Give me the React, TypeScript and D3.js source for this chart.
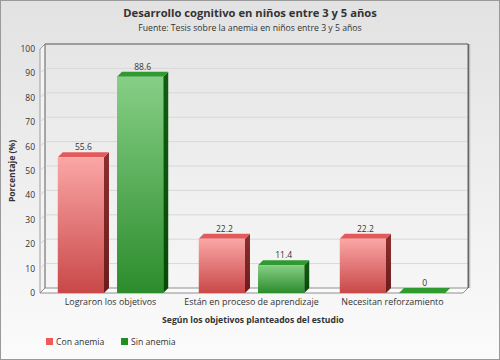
import React from "react";
import * as d3 from "d3";

const categories = ["Lograron los objetivos", "Están en proceso de aprendizaje", "Necesitan reforzamiento"];
const seriesNames = ["Con anemia", "Sin anemia"];
const conAnemia = [55.6, 22.2, 22.2];
const sinAnemia = [88.6, 11.4, 0];
const yTicks = [0, 10, 20, 30, 40, 50, 60, 70, 80, 90, 100];

const W = 500, H = 360;
const X0 = 40, X1 = 463, Y0 = 293, Y1 = 49;
const DX = 5, DY = -5;
const FONT = "'Open Sans', 'Noto Sans', sans-serif";

const colors = [
  { top: "#e45a5a", f1: "#fba6a6", f2: "#c94848", side: "#8c2e2e", side2: "#6a1c1c", legend: "#f0595a" },
  { top: "#2f9a2f", f1: "#86cf86", f2: "#2c8c2c", side: "#0f5f0f", side2: "#084808", legend: "#1f8f1f" },
];

export default function App() {
  const x0 = d3.scaleBand<string>().domain(categories).range([X0, X1]);
  const x1 = d3.scaleBand<string>().domain(seriesNames).range([0, x0.bandwidth()]).paddingInner(0.22).paddingOuter(0.3);
  const y = d3.scaleLinear().domain([0, 100]).range([Y0, Y1]);
  const data = [conAnemia, sinAnemia];
  const bw = x1.bandwidth();

  return (
    <svg width={W} height={H} style={{ display: "block", position: "absolute", left: 0, top: 0 }} fontFamily={FONT}>
      <defs>
        <linearGradient id="bg" x1="0" y1="0" x2="0" y2="1">
          <stop offset="0" stopColor="#e2e2e2" />
          <stop offset="1" stopColor="#fbfbfb" />
        </linearGradient>
        <linearGradient id="wall" x1="0" y1="0" x2="0" y2="1">
          <stop offset="0" stopColor="#e6e6e6" />
          <stop offset="1" stopColor="#f6f6f6" />
        </linearGradient>
        {colors.map((c, i) => (
          <linearGradient key={i} id={`front${i}`} x1="0" y1="0" x2="0" y2="1">
            <stop offset="0" stopColor={c.f1} />
            <stop offset="1" stopColor={c.f2} />
          </linearGradient>
        ))}
        {colors.map((c, i) => (
          <linearGradient key={i} id={`side${i}`} x1="0" y1="0" x2="0" y2="1">
            <stop offset="0" stopColor={c.side} />
            <stop offset="1" stopColor={c.side2} />
          </linearGradient>
        ))}
      </defs>
      <rect x={0.5} y={0.5} width={W - 1} height={H - 1} fill="url(#bg)" stroke="#9a9a9a" />

      <text x={250} y={17} textAnchor="middle" fontSize={11.2} fontWeight={700} fill="#333">
        Desarrollo cognitivo en niños entre 3 y 5 años
      </text>
      <text x={250} y={31} textAnchor="middle" fontSize={8.7} fill="#333">
        Fuente: Tesis sobre la anemia en niños entre 3 y 5 años
      </text>

      {/* back wall */}
      <rect x={X0 + DX} y={Y1 + DY} width={X1 - X0} height={Y0 - Y1} fill="url(#wall)" />
      {/* left wall */}
      <polygon points={`${X0},${Y1} ${X0 + DX},${Y1 + DY} ${X0 + DX},${Y0 + DY} ${X0},${Y0}`} fill="#f4f4f4" stroke="#888" strokeWidth={0.8} />
      {/* floor */}
      <polygon points={`${X0},${Y0} ${X1},${Y0} ${X1 + DX},${Y0 + DY} ${X0 + DX},${Y0 + DY}`} fill="#fafafa" stroke="#777" strokeWidth={0.8} />
      {yTicks.filter(t => t > 0 && t < 100).map(t => (
        <g key={t}>
          <line x1={X0 + DX} x2={X1 + DX} y1={y(t) + DY} y2={y(t) + DY} stroke="#d8d8d8" />
          <line x1={X0} x2={X0 + DX} y1={y(t)} y2={y(t) + DY} stroke="#d0d0d0" />
        </g>
      ))}
      <line x1={X0 + DX} x2={X1 + DX} y1={Y1 + DY} y2={Y1 + DY} stroke="#555" strokeWidth={1.2} />
      <line x1={X1 + DX + 0.5} x2={X1 + DX + 0.5} y1={Y1 + DY} y2={Y0 + DY} stroke="#666" strokeWidth={2} />
      <line x1={X1 + DX + 2} x2={X1 + DX + 2} y1={Y1 + DY} y2={Y0 + DY} stroke="#cfcfcf" strokeWidth={1} />
      <line x1={X0 + DX} x2={X0 + DX} y1={Y1 + DY} y2={Y0 + DY} stroke="#777" strokeWidth={0.8} />

      {yTicks.map(t => (
        <text key={t} x={35} y={y(t) + 3} textAnchor="end" fontSize={8.5} fill="#333">{t}</text>
      ))}
      <text transform={`translate(15,${(Y0 + Y1) / 2}) rotate(-90)`} textAnchor="middle" fontSize={8.6} fontWeight={700} fill="#333">
        Porcentaje (%)
      </text>

      {categories.map((cat, ci) => (
        <g key={cat}>
          {seriesNames.map((s, si) => {
            const v = data[si][ci];
            const bx = (x0(cat) ?? 0) + (x1(s) ?? 0);
            const yt = y(v);
            const yb = y(0);
            const c = colors[si];
            return (
              <g key={s}>
                <polygon points={`${bx + bw},${yt} ${bx + bw + DX},${yt + DY} ${bx + bw + DX},${yb + DY} ${bx + bw},${yb}`} fill={`url(#side${si})`} />
                <polygon points={`${bx},${yt} ${bx + DX},${yt + DY} ${bx + bw + DX},${yt + DY} ${bx + bw},${yt}`} fill={c.top} />
                {v > 0 && <rect x={bx} y={yt} width={bw} height={yb - yt} fill={`url(#front${si})`} />}
                <text x={bx + bw / 2 + DX / 2} y={yt - 7} textAnchor="middle" fontSize={8.5} fill="#333">{v}</text>
              </g>
            );
          })}
          <text x={(x0(cat) ?? 0) + x0.bandwidth() / 2} y={305} textAnchor="middle" fontSize={8.9} fill="#333">{cat}</text>
        </g>
      ))}

      <text x={253} y={323} textAnchor="middle" fontSize={8.6} fontWeight={700} fill="#333">
        Según los objetivos planteados del estudio
      </text>

      {seriesNames.map((s, i) => {
        const lx = i === 0 ? 46 : 121;
        return (
          <g key={s}>
            <rect x={lx} y={338} width={7} height={7} fill={colors[i].legend} />
            <text x={lx + 10} y={345} fontSize={8.7} fill="#333">{s}</text>
          </g>
        );
      })}
    </svg>
  );
}
